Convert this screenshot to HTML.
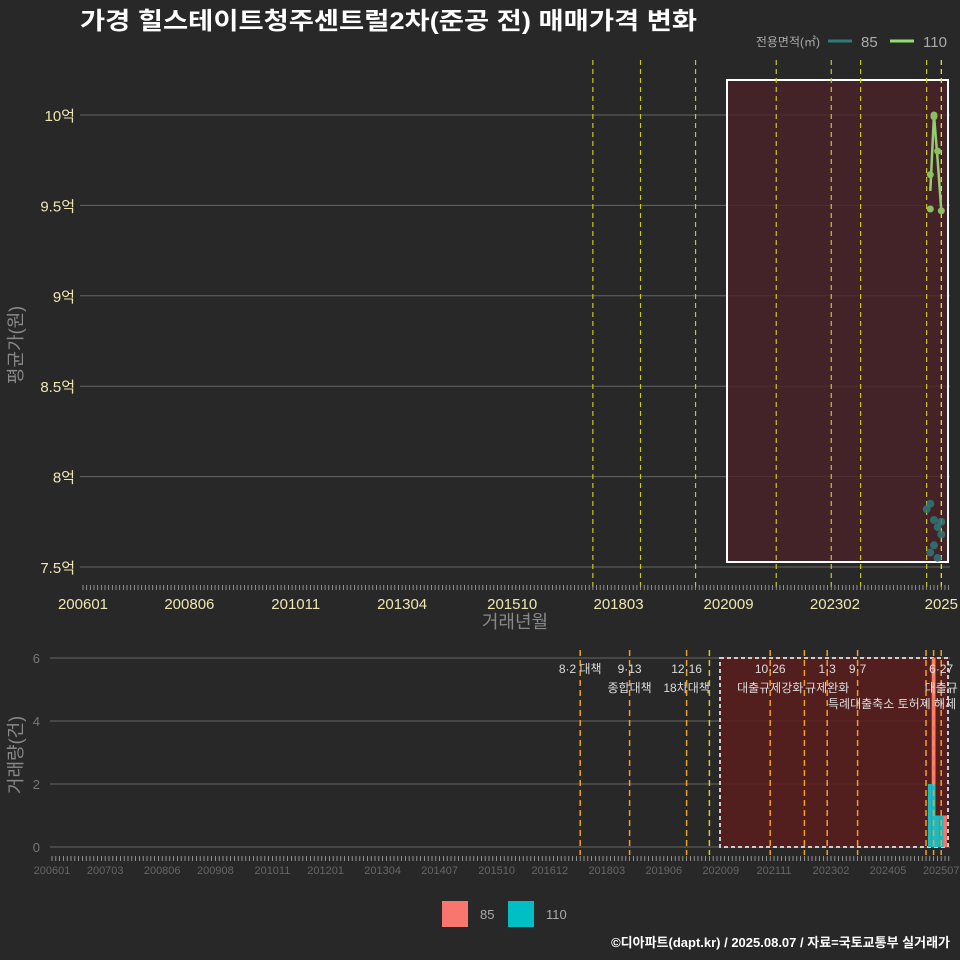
<!DOCTYPE html>
<html><head><meta charset="utf-8">
<style>
body{margin:0;background:#282828;}
svg{display:block;font-family:"Liberation Sans","Noto Sans CJK KR",sans-serif;}
</style></head>
<body>
<svg id="c" width="960" height="960" viewBox="0 0 960 960">
<rect width="960" height="960" fill="#282828"/>
<text x="80" y="29" font-size="24" font-weight="bold" fill="#ffffff" textLength="617" lengthAdjust="spacingAndGlyphs">가경 힐스테이트청주센트럴2차(준공 전) 매매가격 변화</text>
</svg>
<script>
// ---- data ----
const months85 = ["202503","202504","202504","202505","202505","202506","202506","202507","202507"];
const prices85 = [7.82,7.85,7.58,7.76,7.62,7.72,7.55,7.75,7.68];
const months110 = ["202504","202504","202505","202505","202506","202507"];
const prices110 = [9.48,9.67,10.0,9.99,9.8,9.47];
const lineMonths110 = ["202504","202505","202506","202507"];
const lineVals110 = [9.58,10.0,9.75,9.47];
const priceTicks = [7.5,8,8.5,9,9.5,10];
const priceTickLabels = ["7.5억","8억","8.5억","9억","9.5억","10억"];
const topXLabels = ["200601","200806","201011","201304","201510","201803","202009","202302","2025"];
const topXMonths = ["200601","200806","201011","201304","201510","201803","202009","202302","202507"];
const botXLabels = ["200601","200703","200806","200908","201011","201201","201304","201407","201510","201612","201803","201906","202009","202111","202302","202405","202507"];
const volMonths = ["202504","202505","202506","202507","202508"];
const vol85 = [0,4,0,0,1];
const vol110 = [2,2,1,1,0];
const volTicks = [0,2,4,6];
const policyMonths = ["201708","201809","201912","202006","202110","202207","202301","202309","202503","202505","202507"];
const policyLabels = [["8·2 대책",""],["9·13","종합대책"],["12·16","18차대책"],["",""],["10·26","대출규제강화"],["",""],["1·3","규제완화"],["9·7",""],["",""],["",""],["6·27","대출규"]];
const topLineMonths = ["201708","201809","201912","202110","202301","202309","202503","202507"];

const svg=document.getElementById('c');
const NS='http://www.w3.org/2000/svg';
function mk(tag,attrs,parent){const e=document.createElementNS(NS,tag);for(const k in attrs)e.setAttribute(k,attrs[k]);(parent||svg).appendChild(e);return e;}
function mi(m){return (parseInt(m.slice(0,4))-2006)*12+parseInt(m.slice(4))-1;}
const xT=m=>83+mi(m)*3.668;
const yT=v=>115+(10-v)*180.8;
const xB=m=>52+mi(m)*3.8;
const yB=v=>847-v*31.5;

// top panel
let g=mk('g',{});


priceTicks.forEach((v,i)=>{
  const l=mk('line',{x1:80,x2:950,y1:yT(v),y2:yT(v),stroke:'#666','stroke-width':1},g);
  
  const t=mk('text',{x:75,y:yT(v)+6,'text-anchor':'end','font-size':15,fill:'#f0e6b0'},g);
  t.textContent=priceTickLabels[i];
  
});
const box=mk('rect',{x:727,y:80,width:221,height:482,fill:'#4a2228','fill-opacity':0.8,stroke:'#fff','stroke-width':2},g);

topLineMonths.forEach((m,i)=>{
  const l=mk('line',{x1:xT(m),x2:xT(m),y1:60,y2:590,stroke:i==topLineMonths.length-1?'#ffee00':'#c8c820','stroke-width':1.2,'stroke-dasharray':'5,4'},g);
  
});
for(let i=0;i<=236;i++){mk('line',{x1:83+i*3.668,x2:83+i*3.668,y1:585,y2:590,stroke:'#aaa','stroke-width':0.8},g);}
topXLabels.forEach((s,i)=>{
  const t=mk('text',{x:xT(topXMonths[i]),y:609,'text-anchor':'middle','font-size':15,fill:'#f0e6b0'},g);
  t.textContent=s;
});
let t=mk('text',{x:515,y:628,'text-anchor':'middle','font-size':18,fill:'#888'});t.textContent='거래년월';

t=mk('text',{x:0,y:0,transform:'translate(22,345) rotate(-90)','text-anchor':'middle','font-size':18,fill:'#888'});t.textContent='평균가(원)';

const pl=mk('polyline',{points:lineMonths110.map((m,i)=>xT(m)+','+yT(lineVals110[i])).join(' '),fill:'none',stroke:'#90d070','stroke-width':2.5},g);

months110.forEach((m,i)=>{const c=mk('circle',{cx:xT(m),cy:yT(prices110[i]),r:3.5,fill:'#8ac060'},g);
 });
months85.forEach((m,i)=>{const c=mk('circle',{cx:xT(m),cy:yT(prices85[i]),r:4,fill:'#2e7a7a','fill-opacity':0.8},g);
 });
// legend
t=mk('text',{x:820,y:46,'text-anchor':'end','font-size':12,fill:'#aaa'});t.textContent='전용면적(㎡)';

let lg=mk('g',{});
mk('line',{x1:828,x2:852,y1:41,y2:41,stroke:'#2e7a7a','stroke-width':3},lg);
t=mk('text',{x:861,y:47,'font-size':15,fill:'#aaa'},lg);t.textContent='85';
lg=mk('g',{});
mk('line',{x1:890,x2:914,y1:41,y2:41,stroke:'#90e070','stroke-width':3},lg);
t=mk('text',{x:923,y:47,'font-size':15,fill:'#aaa'},lg);t.textContent='110';

// bottom panel
g=mk('g',{});
volTicks.forEach(v=>{
  mk('line',{x1:50,x2:950,y1:yB(v),y2:yB(v),stroke:'#666','stroke-width':1},g);
  const tt=mk('text',{x:40,y:yB(v)+5,'text-anchor':'end','font-size':13,fill:'#777'},g);tt.textContent=v;
  
});
const bb=mk('rect',{x:720,y:658,width:228,height:189,fill:'#5a1c1c','fill-opacity':0.85,stroke:'#ccc','stroke-width':2,'stroke-dasharray':'4,3'},g);

volMonths.forEach((m,i)=>{
  const x=xB(m)-1.9;
  const b1=mk('rect',{x:x,y:yB(vol110[i]),width:3.8,height:vol110[i]*31.5,fill:'#20b8c0'},g);
  
  const b2=mk('rect',{x:x,y:yB(vol110[i]+vol85[i]),width:3.8,height:vol85[i]*31.5,fill:'#f8766d'},g);
  
});
policyMonths.forEach((m,i)=>{
  const x=xB(m);
  const l=mk('line',{x1:x,x2:x,y1:650,y2:855,stroke:i==3?'#d8c820':'#f0a020','stroke-width':1.5,'stroke-dasharray':'6,4'},g);
  
  const lb=policyLabels[i];
  if(lb[0]){const a=mk('text',{x:x,y:673,'text-anchor':'middle','font-size':12,fill:'#ddd'},g);a.textContent=lb[0];
   }
  if(lb[1]){const a=mk('text',{x:x,y:692,'text-anchor':'middle','font-size':12,fill:'#ddd'},g);a.textContent=lb[1];
   }
});
t=mk('text',{x:828,y:708,'font-size':12,fill:'#ddd'});t.textContent='특례대출축소 토허제 해제';

for(let i=0;i<=236;i++){mk('line',{x1:52+i*3.8,x2:52+i*3.8,y1:856,y2:861,stroke:'#aaa','stroke-width':0.8},g);}
botXLabels.forEach(s=>{
  const a=mk('text',{x:xB(s),y:874,'text-anchor':'middle','font-size':11,fill:'#666'},g);a.textContent=s;
  
});
t=mk('text',{x:0,y:0,transform:'translate(22,755) rotate(-90)','text-anchor':'middle','font-size':18,fill:'#888'});t.textContent='거래량(건)';

lg=mk('g',{});
mk('rect',{x:442,y:901,width:26,height:26,fill:'#f8766d'},lg);
t=mk('text',{x:480,y:919,'font-size':13,fill:'#aaa'},lg);t.textContent='85';
lg=mk('g',{});
mk('rect',{x:508,y:901,width:26,height:26,fill:'#00bfc4'},lg);
t=mk('text',{x:546,y:919,'font-size':13,fill:'#aaa'},lg);t.textContent='110';
t=mk('text',{x:950,y:947,'text-anchor':'end','font-size':13,'font-weight':'bold',fill:'#fff'});t.textContent='©디아파트(dapt.kr) / 2025.08.07 / 자료=국토교통부 실거래가';

</script>
</body></html>
